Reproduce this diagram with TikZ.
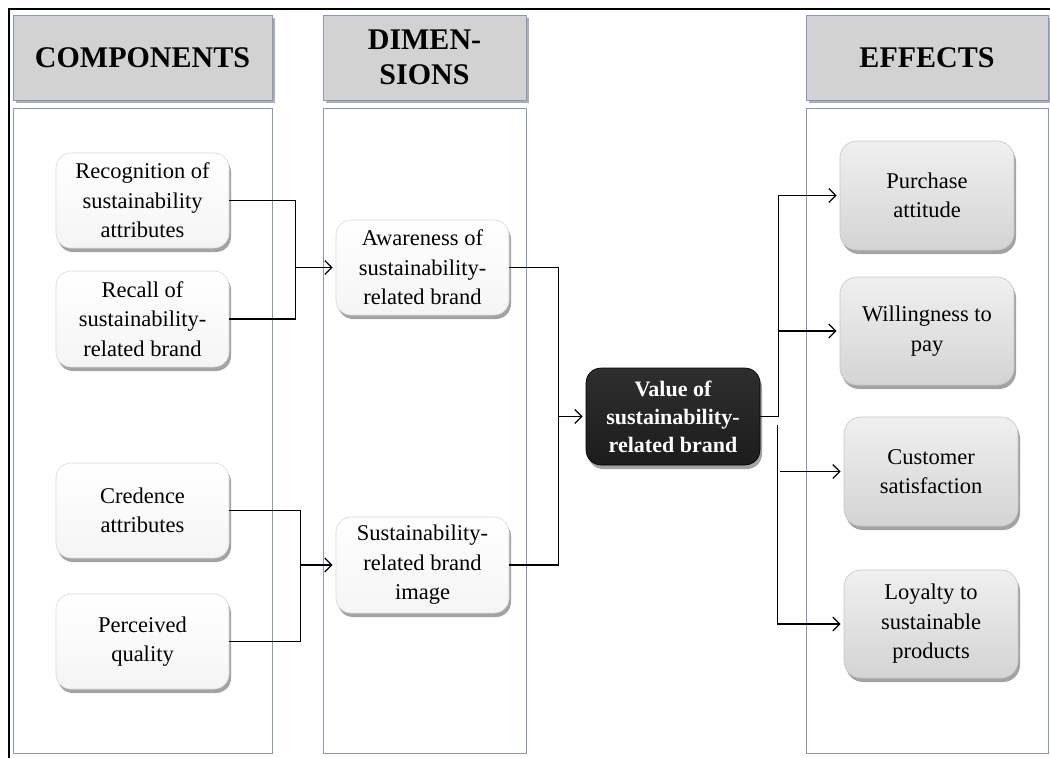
\documentclass[tikz,border=0pt]{standalone}
\usepackage{fontspec}
\setmainfont{Liberation Serif}
\usetikzlibrary{arrows.meta,shadows,calc}
\definecolor{pborder}{RGB}{135,150,195}
\definecolor{hdrfill}{RGB}{210,210,210}
\definecolor{darkbox}{RGB}{28,28,28}
\tikzset{
  panel/.style={draw=pborder, line width=0.8pt, fill=white},
  hdr/.style={draw=pborder, line width=0.8pt, fill=hdrfill, align=center,
    font=\fontsize{30}{35}\selectfont\bfseries,
    drop shadow={shadow xshift=3pt, shadow yshift=-3pt, opacity=0.45, fill=black!70}},
  wbox/.style={rounded corners=15pt, draw=gray!30, line width=0.6pt,
    top color=white, bottom color=gray!8, align=center,
    minimum width=173pt, minimum height=95pt, inner sep=0pt,
    font=\fontsize{22.5}{29.5}\selectfont,
    drop shadow={shadow xshift=2pt, shadow yshift=-4pt, opacity=0.55, fill=black!65}},
  gbox/.style={wbox, rounded corners=17pt, top color=gray!12, bottom color=gray!34,
    draw=gray!45, minimum width=174pt, minimum height=108pt},
  dbox/.style={wbox, top color=darkbox!92!white, bottom color=darkbox, draw=black,
    text=white, font=\fontsize{22}{28}\selectfont\bfseries, minimum width=174pt, minimum height=97pt},
  conn/.style={draw=black, line width=1.3pt},
  arr/.style={conn, -{Straight Barb[length=7pt,width=14pt,line width=1.3pt]}, shorten >=3pt}
}
\begin{document}
\begin{tikzpicture}[x=1pt,y=-1pt]
\useasboundingbox (0,0) rectangle (1050,758);
\fill[white] (0,0) rectangle (1050,758);
% outer frame
\draw[line width=2pt] (8.5,758) -- (8.5,8.5) -- (1050,8.5);
% panels
\path[panel] (13,108) rectangle (272,753);
\path[panel] (323,108) rectangle (526,753);
\path[panel] (806,108) rectangle (1048,753);
% headers
\node[hdr, minimum width=259pt, minimum height=85pt] (hcomp) at (142.5,57.5) {COMPONENTS};
\node[hdr, minimum width=203pt, minimum height=85pt] (hdim) at (424.5,57.5) {DIMEN-\\SIONS};
\node[hdr, minimum width=242pt, minimum height=85pt] (heff) at (927,57.5) {EFFECTS};
% components
\node[wbox] (rec) at (142.5,200.5) {Recognition of\\sustainability\\attributes};
\node[wbox, minimum height=96pt] (rcl) at (142.5,319) {Recall of\\sustainability-\\related brand};
\node[wbox] (cred) at (142.5,510.5) {Credence\\attributes};
\node[wbox] (perc) at (142.5,641.5) {Perceived\\quality};
% dimensions
\node[wbox] (aware) at (422.5,267.5) {Awareness of\\sustainability-\\related brand};
\node[wbox, minimum height=96pt] (img) at (422.5,565) {Sustainability-\\related brand\\image};
% value
\node[dbox] (val) at (673,416.5) {Value of\\sustainability-\\related brand};
% effects
\node[gbox, minimum height=109pt] (purch) at (927,195.5) {Purchase\\attitude};
\node[gbox] (will) at (927,331) {Willingness to\\pay};
\node[gbox, minimum height=109pt] (cust) at (931,471.5) {Customer\\satisfaction};
\node[gbox] (loy) at (931,624) {Loyalty to\\sustainable\\products};
% junctions
\path (aware.west) ++(-40,0) coordinate (j1);
\path (img.west) ++(-35,0) coordinate (j2);
\path (val.west) ++(-27,0) coordinate (j3);
\path (val.east) ++(18,0) coordinate (e1);
\path (val.east) ++(17,8) coordinate (e2);
\path (val.east) ++(20,0) coordinate (e3);
% connectors
\draw[conn] (rec.east) -| (j1) |- (rcl.east);
\draw[arr] (j1) -- (aware.west);
\draw[conn] (cred.east) -| (j2) |- (perc.east);
\draw[arr] (j2) -- (img.west);
\draw[conn] (aware.east) -| (j3) |- (img.east);
\draw[arr] (j3) -- (val.west);
\draw[arr] (val.east) -| (e1 |- purch.west) -- (purch.west);
\draw[arr] (e1 |- will.west) -- (will.west);
\draw[arr] (e2) |- (loy.west);
\draw[arr] (e3 |- cust.west) -- (cust.west);
\end{tikzpicture}
\end{document}
